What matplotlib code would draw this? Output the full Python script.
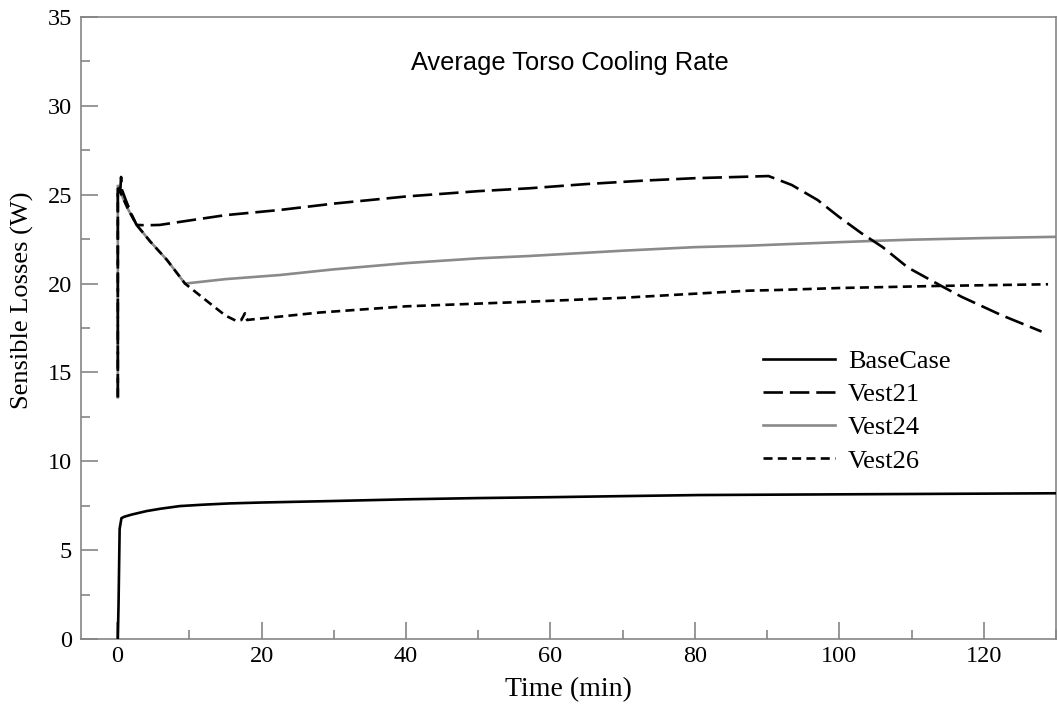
import matplotlib
matplotlib.use("Agg")
import matplotlib.pyplot as plt
from matplotlib.ticker import MultipleLocator

# ---- data ----
t_base = [0.1, 0.2, 0.35, 0.6, 1.0, 2.0, 4.1, 6.0, 8.7, 12.0, 15.6, 20.0, 29.4, 40.0, 50.0, 60.0, 70.0, 80.5, 90.0, 100.0, 110.0, 120.0, 130.0]
v_base = [0.0, 2.0, 6.2, 6.8, 6.88, 7.0, 7.2, 7.33, 7.48, 7.56, 7.63, 7.68, 7.76, 7.86, 7.93, 7.98, 8.04, 8.1, 8.12, 8.14, 8.16, 8.18, 8.2]

t_v21 = [0.1, 0.1, 0.45, 0.55, 0.65, 1.2, 2.0, 2.7, 4.0, 5.9, 10.0, 15.0, 22.5, 30.0, 40.0, 50.0, 57.0, 65.0, 73.2, 80.0, 86.0, 90.2,
         93.4, 97.0, 99.9, 103.0, 106.0, 109.5, 114.1, 116.9, 122.4, 128.0]
v_v21 = [13.6, 25.4, 25.3, 26.0, 25.3, 24.7, 23.9, 23.3, 23.28, 23.3, 23.55, 23.85, 24.14, 24.5, 24.9, 25.2, 25.36, 25.6, 25.8, 25.93, 26.0, 26.05,
         25.55, 24.7, 23.77, 22.85, 22.05, 20.9, 19.87, 19.26, 18.23, 17.3]

t_v24 = [0.1, 0.1, 0.5, 1.5, 2.7, 4.6, 6.9, 9.4, 15.0, 22.5, 30.0, 40.0, 50.0, 57.0, 70.0, 80.0, 87.4, 91.6, 100.0, 104.7, 110.0, 120.0, 130.0]
v_v24 = [13.6, 25.55, 25.1, 24.2, 23.3, 22.36, 21.33, 20.0, 20.25, 20.48, 20.8, 21.15, 21.42, 21.55, 21.85, 22.05, 22.13, 22.2, 22.33, 22.4, 22.47, 22.56, 22.63]

t_v26 = [0.1, 0.1, 0.5, 1.5, 2.7, 4.6, 6.9, 9.4, 12.8, 15.0, 16.5, 17.2, 17.7, 18.0, 18.4, 22.5, 28.0, 40.0, 57.0, 70.0, 87.4, 91.6, 100.0, 114.1, 128.9]
v_v26 = [13.6, 25.55, 25.1, 24.2, 23.3, 22.36, 21.33, 20.0, 18.9, 18.2, 17.9, 17.95, 18.33, 17.95, 17.97, 18.14, 18.37, 18.72, 18.98, 19.2, 19.6, 19.64, 19.75, 19.87, 19.96]

labels = ["BaseCase", "Vest21", "Vest24", "Vest26"]
title = "Average Torso Cooling Rate"
xlabel = "Time (min)"
ylabel = "Sensible Losses (W)"

# ---- style ----
plt.rcParams["lines.scale_dashes"] = False
serif = ["Liberation Serif", "DejaVu Serif"]
sans = ["Liberation Sans", "DejaVu Sans"]
gray_axis = "#858585"
gray_line = "#8a8a8a"

fig = plt.figure(figsize=(10.59, 7.04), dpi=100)
ax = fig.add_axes([81/1059, 1-639/704, (1056-81)/1059, (639-17)/704])

lw = 1.9
ax.plot(t_v24, v_v24, color=gray_line, lw=lw, solid_joinstyle="miter", label=labels[2], zorder=2)
ax.plot(t_base, v_base, color="black", lw=lw, label=labels[0], zorder=3)
ax.plot(t_v21, v_v21, color="black", lw=lw, dashes=(14, 5), label=labels[1], zorder=3)
ax.plot(t_v26, v_v26, color="black", lw=lw, dashes=(6.5, 3.8), label=labels[3], zorder=3)

ax.set_xlim(-5, 130)
ax.set_ylim(0, 35)
ax.xaxis.set_major_locator(MultipleLocator(20))
ax.xaxis.set_minor_locator(MultipleLocator(10))
ax.yaxis.set_major_locator(MultipleLocator(5))
ax.yaxis.set_minor_locator(MultipleLocator(2.5))
ax.tick_params(which="both", direction="in", color=gray_axis, width=1.2, top=False, right=False)
ax.tick_params(which="major", length=12)
ax.tick_params(which="minor", length=6.3)
for s in ax.spines.values():
    s.set_color(gray_axis)
    s.set_linewidth(1.2)
for lab in ax.get_xticklabels() + ax.get_yticklabels():
    lab.set_fontfamily(serif)
    lab.set_fontsize(17.5)
ax.tick_params(axis="y", pad=6.5)
ax.tick_params(axis="x", pad=5)

ax.set_xlabel(xlabel, family=serif, fontsize=20, labelpad=7)
ax.set_ylabel(ylabel, family=serif, fontsize=19)
ax.yaxis.set_label_coords(-0.048, 0.545)
ax.text(0.5015, 0.926, title, transform=ax.transAxes, ha="center", va="center",
        family=sans, fontsize=18.3)

handles, labs = ax.get_legend_handles_labels()
order = [labs.index(l) for l in labels]
leg = ax.legend([handles[i] for i in order], [labs[i] for i in order],
                loc="center left", bbox_to_anchor=((763-81)/975, (639-411)/622),
                frameon=False, borderpad=0, borderaxespad=0, handlelength=2.73,
                handletextpad=0.49, labelspacing=0.37,
                prop={"family": serif, "size": 19})

fig.savefig("out.png", dpi=100)
